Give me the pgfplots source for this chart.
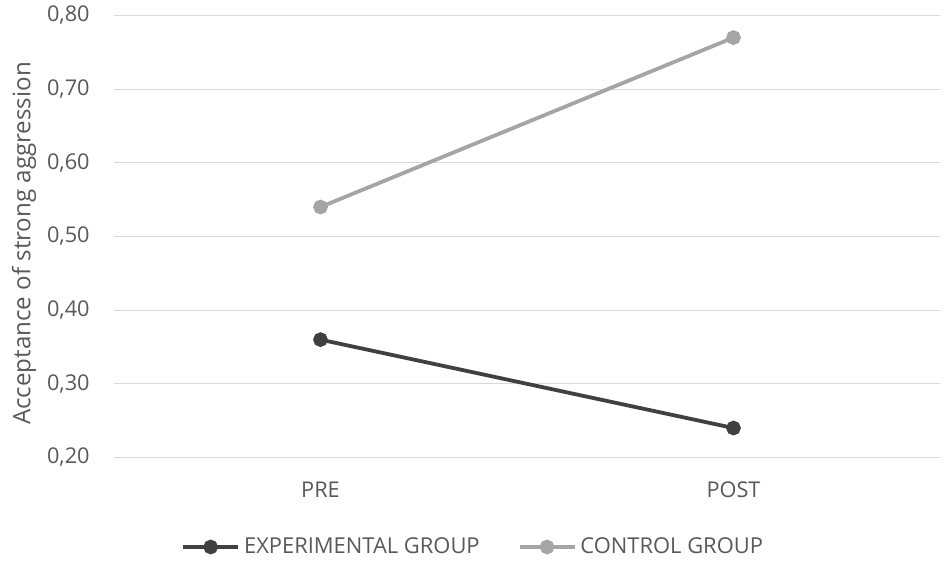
\documentclass[border=0pt]{standalone}
\usepackage{pgfplots}
\pgfplotsset{compat=1.18}
\usepackage{fontspec}
\setmainfont{Open Sans}
\definecolor{txt}{HTML}{595959}
\definecolor{gridc}{HTML}{D9D9D9}
\definecolor{expc}{HTML}{404040}
\definecolor{ctlc}{HTML}{A5A5A5}
\begin{document}
\fontsize{10.8}{13}\selectfont
\begin{tikzpicture}
\begin{axis}[
  at={(0,0)}, anchor=south west,
  scale only axis, width=413bp, height=221bp,
  xmin=-0.5, xmax=1.5, ymin=0.2, ymax=0.8,
  xtick={0,1}, xticklabels={PRE,POST},
  ytick={0.2,0.3,0.4,0.5,0.6,0.7,0.8},
  yticklabel={\pgfmathprintnumber[fixed,fixed zerofill,precision=2,use comma]{\tick}},
  /pgf/number format/assume math mode=true,
  axis line style={draw=none},
  major tick length=0pt,
  xmajorgrids=false, ymajorgrids=true, major grid style={draw=gridc, line width=0.6bp},
  tick label style={text=txt, font=\fontsize{10.9}{13}\selectfont},
  yticklabel style={anchor=east, inner sep=0pt, xshift=-12bp},
  xticklabel style={anchor=center, inner sep=0pt, yshift=-16bp},
  ylabel={Acceptance of strong aggression},
  ylabel style={at={(rel axis cs:0,0.5)}, anchor=center, yshift=45bp, xshift=-3.5bp, text=txt, font=\fontsize{12.1}{14}\selectfont},
  clip=false,
  legend columns=2,
  legend style={at={(rel axis cs:0.436,0)}, anchor=center, yshift=-44.75bp, draw=none, fill=none,
    text=txt, font=\fontsize{11}{13}\selectfont,
    /tikz/every even column/.append style={column sep=17bp}},
  legend cell align=left,
  legend image code/.code={%
    \draw[#1, mark=none] (0bp,0bp) -- (27.5bp,0bp);
    \draw[#1, only marks] plot coordinates {(13.75bp,0bp)};},
]
\addplot[expc, line width=1.9bp, mark=*, mark size=2.7bp, mark options={fill=expc}] coordinates {(0,0.36) (1,0.24)};
\addlegendentry{EXPERIMENTAL GROUP}
\addplot[ctlc, line width=1.9bp, mark=*, mark size=2.7bp, mark options={fill=ctlc}] coordinates {(0,0.54) (1,0.77)};
\addlegendentry{CONTROL GROUP}
\end{axis}
\pgfresetboundingbox
\path (-57bp,-53.25bp) rectangle (418bp,228.75bp);
\end{tikzpicture}
\end{document}
